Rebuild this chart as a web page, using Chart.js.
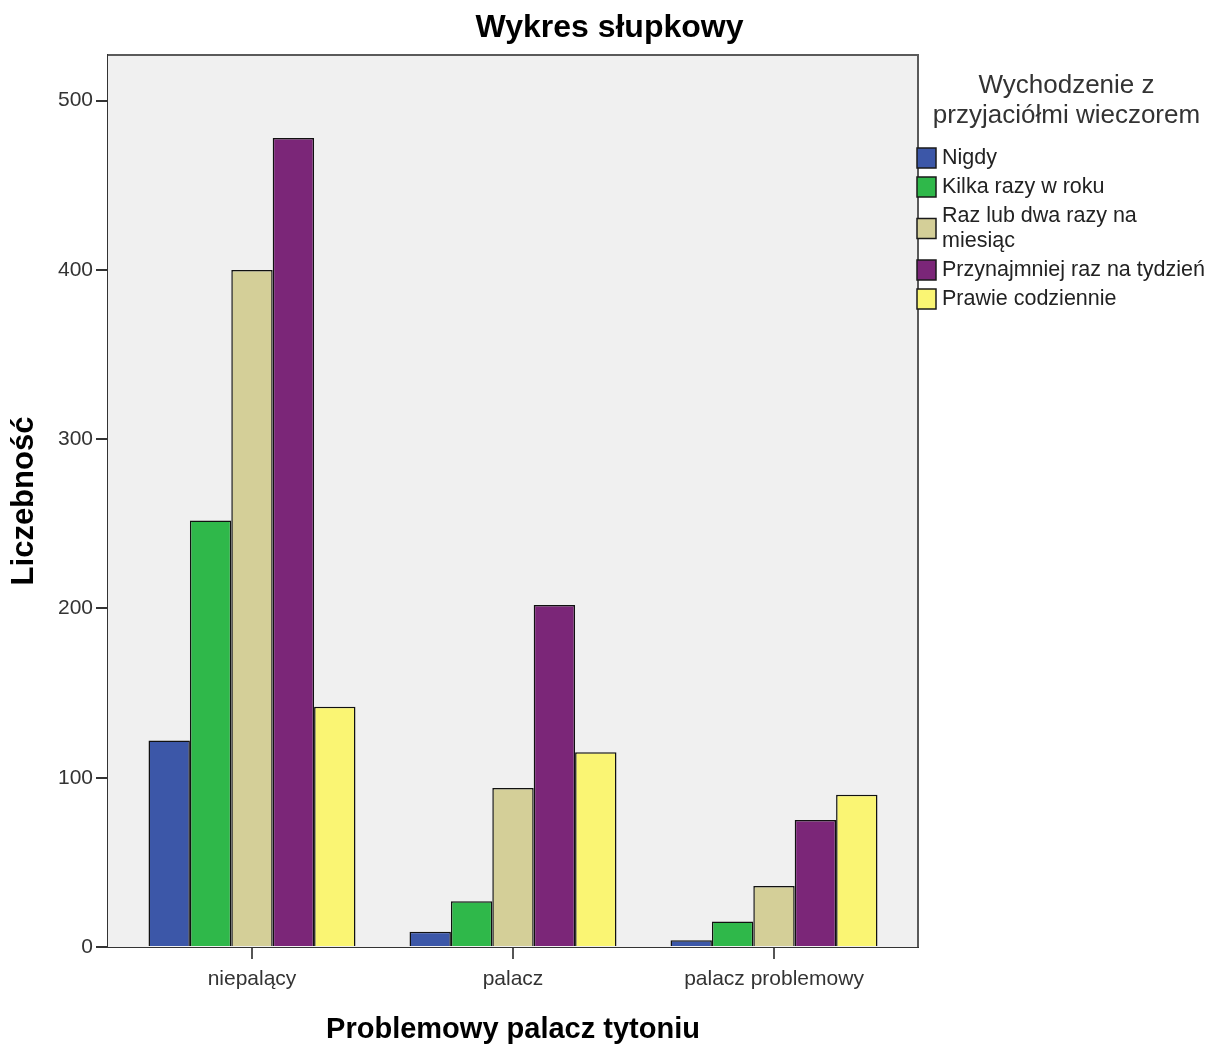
<!DOCTYPE html>
<html>
<head>
<meta charset="utf-8">
<script src="https://cdn.jsdelivr.net/npm/chart.js@4/dist/chart.umd.min.js"></script>
<style>
  html, body { margin: 0; padding: 0; background: #fff; }
  #wrap { width: 1219px; height: 1048px; }
</style>
</head>
<body>
<div id="wrap"><canvas id="myChart" width="1219" height="1048"></canvas></div>
<script>
// data
const categories = ['niepalący', 'palacz', 'palacz problemowy'];
const seriesNames = ['Nigdy', 'Kilka razy w roku', 'Raz lub dwa razy na miesiąc', 'Przynajmniej raz na tydzień', 'Prawie codziennie'];
const nigdy = [122, 9, 4];
const kilkaRazy = [252, 27, 15];
const razLubDwa = [400, 94, 36];
const przynajmniej = [478, 202, 75];
const prawie = [142, 115, 90];
const yTicks = [0, 100, 200, 300, 400, 500];
const legendTitle = ['Wychodzenie z', 'przyjaciółmi wieczorem'];

const colors = ['#3c57a8', '#2fb84a', '#d4cf98', '#7b2678', '#faf573'];
const FONT = "'Liberation Sans', Arial, sans-serif";

const allSeries = [nigdy, kilkaRazy, razLubDwa, przynajmniej, prawie];

// plot frame: grey background, top and right edges
const framePlugin = {
  id: 'frame',
  beforeDatasetsDraw(chart) {
    const {ctx, chartArea: a} = chart;
    ctx.save();
    ctx.fillStyle = '#f0f0f0';
    ctx.fillRect(a.left, a.top, a.right - a.left, a.bottom - a.top);
    ctx.restore();
  },
  afterDatasetsDraw(chart) {
    const {ctx, chartArea: a} = chart;
    ctx.save();
    ctx.strokeStyle = '#5a5a5a';
    ctx.lineWidth = 2;
    ctx.beginPath();
    ctx.moveTo(a.left, a.top);
    ctx.lineTo(a.right, a.top);
    ctx.lineTo(a.right, a.bottom);
    ctx.stroke();
    ctx.restore();
  }
};

// SPSS style legend on the right
const legendPlugin = {
  id: 'spssLegend',
  afterDraw(chart) {
    const {ctx, chartArea: a} = chart;
    ctx.save();
    ctx.fillStyle = '#333';
    ctx.textAlign = 'center';
    ctx.textBaseline = 'middle';
    ctx.font = '26px ' + FONT;
    const cx = (a.right + chart.width) / 2 - 2;
    legendTitle.forEach((t, i) => ctx.fillText(t, cx, 86 + i * 30));

    ctx.font = '21.5px ' + FONT;
    ctx.textAlign = 'left';
    const boxX = a.right - 1;
    const textX = a.right + 24;
    const maxW = chart.width - textX - 4;
    let top = 143.5;
    chart.data.datasets.forEach((ds) => {
      // wrap the label
      const words = ds.label.split(' ');
      const lines = [];
      let cur = '';
      words.forEach(w => {
        const test = cur ? cur + ' ' + w : w;
        if (ctx.measureText(test).width > maxW && cur) { lines.push(cur); cur = w; }
        else cur = test;
      });
      lines.push(cur);
      const h = 25 * lines.length + 4;
      const mid = top + h / 2;
      ctx.fillStyle = ds.backgroundColor;
      ctx.fillRect(boxX, mid - 10, 19, 20);
      ctx.strokeStyle = '#1a1a1a';
      ctx.lineWidth = 1.5;
      ctx.strokeRect(boxX, mid - 10, 19, 20);
      ctx.fillStyle = '#222';
      lines.forEach((l, k) => ctx.fillText(l, textX, top + 14.5 + k * 25));
      top += h;
    });
    ctx.restore();
  }
};

const datasets = seriesNames.map((name, s) => ({
  label: name,
  data: allSeries[s].map((v, i) => ({x: i, y: v})),
  backgroundColor: colors[s],
  borderColor: '#111',
  borderWidth: 1.5,
  categoryPercentage: 0.793,
  barPercentage: 1.0
}));

const config = {
  type: 'bar',
  data: { datasets: datasets },
  options: {
    responsive: false,
    animation: false,
    layout: { padding: 0 },
    plugins: {
      legend: { display: false },
      tooltip: { enabled: false },
      title: {
        display: true,
        text: 'Wykres słupkowy',
        color: '#000',
        font: { family: FONT, size: 32, weight: 'bold' },
        padding: { top: 9, bottom: 7.6 }
      }
    },
    scales: {
      x: {
        type: 'linear',
        min: -0.5517,
        max: 2.5517,
        bounds: 'data',
        offset: false,
        afterFit(scale) { scale.height = 101; },
        afterBuildTicks(scale) { scale.ticks = categories.map((c, i) => ({value: i})); },
        border: { display: true, color: '#333', width: 2 },
        grid: { display: true, offset: false, drawOnChartArea: false, drawTicks: true, tickLength: 12, color: '#555', lineWidth: 2 },
        ticks: {
          autoSkip: false,
          maxRotation: 0,
          padding: 8,
          color: '#333',
          font: { family: FONT, size: 21 },
          callback: (v) => categories[v] !== undefined ? categories[v] : ''
        },
        title: {
          display: true,
          text: 'Problemowy palacz tytoniu',
          color: '#000',
          font: { family: FONT, size: 29, weight: 'bold' },
          padding: { top: 0, bottom: 1 }
        }
      },
      y: {
        min: 0,
        max: 527,
        afterFit(scale) { scale.width = 108; },
        afterBuildTicks(scale) { scale.ticks = yTicks.map(v => ({value: v})); },
        border: { display: true, color: '#333', width: 2 },
        grid: { display: true, drawOnChartArea: false, drawTicks: true, tickLength: 12, color: '#333', lineWidth: 2 },
        ticks: {
          padding: 3,
          color: '#333',
          font: { family: FONT, size: 21 }
        },
        title: {
          display: true,
          text: 'Liczebność',
          color: '#000',
          font: { family: FONT, size: 31, weight: 'bold' },
          padding: { top: 6, bottom: 0 }
        }
      },
      // empty axis that only reserves the space for the legend
      legendSpace: {
        type: 'linear',
        position: 'right',
        afterFit(scale) { scale.width = 301; },
        border: { display: false },
        grid: { display: false },
        ticks: { display: false }
      }
    }
  },
  plugins: [framePlugin, legendPlugin]
};

const myChart = new Chart(document.getElementById('myChart'), config);
</script>
</body>
</html>
